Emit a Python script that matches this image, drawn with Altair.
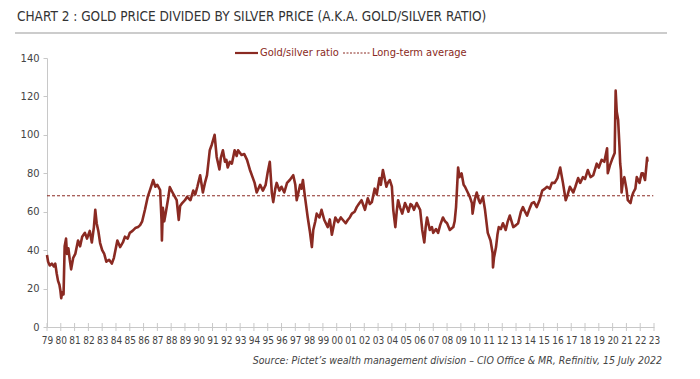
import altair as alt
import pandas as pd

years = [1979.00,1979.08,1979.2,1979.35,1979.5,1979.6,1979.7,1979.8,1979.9,1979.97,
1980.03,1980.1,1980.2,1980.28,1980.38,1980.45,1980.55,1980.65,1980.75,1980.9,
1981.05,1981.25,1981.4,1981.55,1981.75,1981.9,1982.1,1982.25,1982.4,1982.5,
1982.6,1982.72,1982.85,1983.0,1983.15,1983.3,1983.5,1983.7,1983.85,1984.1,
1984.3,1984.5,1984.65,1984.85,1985.0,1985.2,1985.4,1985.6,1985.75,1985.9,
1986.1,1986.3,1986.5,1986.7,1986.85,1987.0,1987.2,1987.3,1987.33,1987.4,
1987.5,1987.6,1987.8,1987.9,1988.1,1988.25,1988.4,1988.55,1988.65,1988.8,
1989.0,1989.15,1989.4,1989.6,1989.75,1989.9,1990.1,1990.3,1990.45,1990.6,
1990.8,1990.95,1991.15,1991.3,1991.5,1991.6,1991.75,1991.9,1992.0,1992.1,
1992.25,1992.4,1992.6,1992.75,1992.85,1993.1,1993.3,1993.5,1993.7,1993.9,
1994.05,1994.2,1994.45,1994.65,1994.85,1995.0,1995.15,1995.3,1995.4,1995.55,
1995.65,1995.85,1996.0,1996.2,1996.4,1996.6,1996.85,1997.0,1997.1,1997.35,
1997.45,1997.55,1997.7,1997.9,1998.05,1998.2,1998.3,1998.45,1998.55,1998.75,
1998.9,1999.1,1999.35,1999.5,1999.65,1999.9,2000.1,2000.3,2000.45,2000.65,
2000.8,2000.95,2001.1,2001.3,2001.45,2001.6,2001.8,2002.05,2002.25,2002.4,
2002.55,2002.75,2002.9,2003.1,2003.2,2003.35,2003.5,2003.6,2003.7,2003.85,
2004.0,2004.1,2004.25,2004.35,2004.45,2004.6,2004.75,2004.95,2005.1,2005.2,
2005.35,2005.45,2005.6,2005.8,2006.05,2006.2,2006.35,2006.45,2006.55,2006.75,
2006.9,2007.0,2007.2,2007.35,2007.5,2007.7,2007.85,2008.0,2008.2,2008.45,
2008.55,2008.65,2008.8,2008.9,2009.05,2009.2,2009.3,2009.5,2009.65,2009.8,
2009.85,2010.0,2010.15,2010.3,2010.4,2010.6,2010.75,2010.95,2011.15,2011.3,
2011.33,2011.4,2011.55,2011.65,2011.75,2011.9,2012.05,2012.25,2012.4,2012.55,
2012.8,2013.0,2013.15,2013.35,2013.5,2013.65,2013.8,2014.0,2014.15,2014.3,
2014.5,2014.7,2014.9,2015.1,2015.25,2015.45,2015.6,2015.8,2016.0,2016.2,
2016.3,2016.4,2016.6,2016.75,2016.9,2017.15,2017.3,2017.5,2017.65,2017.85,
2018.0,2018.2,2018.4,2018.6,2018.85,2019.0,2019.2,2019.4,2019.6,2019.65,
2019.8,2019.95,2020.15,2020.22,2020.3,2020.4,2020.5,2020.55,2020.6,2020.65,
2020.75,2020.85,2021.0,2021.1,2021.3,2021.4,2021.5,2021.65,2021.75,2021.95,
2022.1,2022.2,2022.35,2022.45,2022.5,2022.53]

ratio = [37.5,34,32,33,31.5,33,28,24,22,19,
15,18,17,42,46,38,41,35,30,36,
38,45,42,47,49,46,50,44,52,61,
54,50,43.7,40,38,34,35,33,36,45,
41.6,44,47,46,49,50,51.5,52,53,55,
61,67.7,72,76.5,73,74,71.3,56,45,62,
55,59,67.7,72.8,70,68,66,55.7,63,64.5,
66,67.7,66,71,69,73,79,70,75,79,
92,95,100,88.5,82,88,92,86,87,83,
86,85,92,89,92,89.5,90,87,82,78,
75,70,74,71,74,80.6,86,69.7,65,72,
75,71,73,70,75,76.5,79,74,66,74,
72,76.5,67.7,57,50,41.6,50.5,55,59,57,
61,55.7,52,56,48,57,54.6,57,55.7,54,
55.7,57,59,60,62.4,64,66,61,67,64,
65,72,69,77.5,74,81.7,76.5,73,75,76.5,
73,61,52,60,66,62,59,64.5,62,60,
64,63.5,61,64.5,61,50.5,44,52,57,50.5,
52,49,51,49,53,57,55,54,50.5,52,
55,62.4,83,78,80,74,73,70,67.7,64.5,
59,66,70,66,64.5,67.7,61,49,45,38.5,
31,36,41.6,48,52,51,54,50.5,55,58,
52,53,54,60,62.4,60,58,62,64.5,65,
62.4,66,71,72,73,72,75,75,77.5,83,
79,75,66,69,73,70,73,77.5,75,78,
77,81.7,78,79,85,83,87,86,93,80,
84,87,90.5,123,112,107.7,93.7,85,81.7,70,
76,78,72,66,64.5,68,70,72,78,75,
80,80,76.5,84,88,86]

long_term_average = 68.3
avg_start, avg_end = 1979.0, 2022.95
tick_years = list(range(1979, 2024))
y_ticks = [0, 20, 40, 60, 80, 100, 120, 140]

title_text = "CHART 2 : GOLD PRICE DIVIDED BY SILVER PRICE (A.K.A. GOLD/SILVER RATIO)"
legend_series = "Gold/silver ratio"
legend_avg = "Long-term average"
source_text = "Source: Pictet\u2019s wealth management division \u2013 CIO Office & MR, Refinitiv, 15 July 2022"

FONT = "DejaVu Sans Condensed, Liberation Sans Narrow, sans-serif"
RED = "#8a2a22"
GRAY_TXT = "#444444"
AXIS_GRAY = "#c8c8c8"

W, H = 607, 269

df = pd.DataFrame({"year": years, "ratio": ratio})
avg_df = pd.DataFrame({"year": [avg_start], "year2": [avg_end], "ratio": [long_term_average]})
ticks_df = pd.DataFrame({"year": tick_years})
one = pd.DataFrame({"a": [0]})

xscale = alt.Scale(domain=[1979, 2023], nice=False, zero=False)
yscale = alt.Scale(domain=[0, 140], nice=False)

x_axis = alt.Axis(values=tick_years, labelExpr="format(datum.value % 100, '02d')",
                  title=None, grid=False, ticks=False, domainColor=AXIS_GRAY,
                  labelFont=FONT, labelFontSize=10, labelColor=GRAY_TXT,
                  labelPadding=8, labelOverlap=False, labelFlush=False)
y_axis = alt.Axis(values=y_ticks, title=None, grid=False, tickSize=4,
                  tickColor=AXIS_GRAY, domainColor=AXIS_GRAY,
                  labelFont=FONT, labelFontSize=11, labelColor=GRAY_TXT,
                  labelPadding=4, labelOverlap=False)

line = alt.Chart(df).mark_line(color=RED, strokeWidth=2.6, strokeJoin="round").encode(
    x=alt.X("year:Q", scale=xscale, axis=x_axis),
    y=alt.Y("ratio:Q", scale=yscale, axis=y_axis),
)

avg_rule = alt.Chart(avg_df).mark_rule(color=RED, strokeWidth=1, strokeDash=[3, 2]).encode(
    x=alt.X("year:Q", scale=xscale, axis=x_axis), x2="year2:Q",
    y=alt.Y("ratio:Q", scale=yscale, axis=y_axis))

xticks = alt.Chart(ticks_df).mark_rule(color=AXIS_GRAY, strokeWidth=1).encode(
    x=alt.X("year:Q", scale=xscale, axis=x_axis), y=alt.value(H - 4), y2=alt.value(H + 4))

def txt(x, y, text, size, color, align="left", italic=False, baseline="middle"):
    kw = dict(font=FONT, fontSize=size, color=color, align=align, baseline=baseline)
    if italic:
        kw["fontStyle"] = "italic"
    return alt.Chart(one).mark_text(**kw).encode(
        x=alt.value(x), y=alt.value(y), text=alt.value(text))

title = txt(-30, -41, title_text, 13.5, "#333333")
title_rule = alt.Chart(one).mark_rule(color="#999999", strokeWidth=1).encode(
    x=alt.value(-32), x2=alt.value(620), y=alt.value(-25))

leg_line = alt.Chart(one).mark_rule(color=RED, strokeWidth=2.2).encode(
    x=alt.value(188), x2=alt.value(211), y=alt.value(-5))
leg_txt1 = txt(213, -5, legend_series, 11, RED)
leg_dash = alt.Chart(one).mark_rule(color=RED, strokeWidth=1, strokeDash=[2, 1.5]).encode(
    x=alt.value(296), x2=alt.value(323), y=alt.value(-5))
leg_txt2 = txt(325, -5, legend_avg, 11, RED)

source = txt(615, 303, source_text, 10.5, GRAY_TXT, align="right", italic=True)

chart = alt.layer(
    line, avg_rule, xticks, title, title_rule, leg_line, leg_txt1, leg_dash, leg_txt2, source
).properties(
    width=W, height=H,
    background="white",
    autosize=alt.AutoSizeParams(type="none"),
    padding={"left": 39, "top": 50, "right": 30, "bottom": 40},
).configure_view(stroke=None)

chart.save("out.html", embed_options={"renderer": "svg", "actions": False})
